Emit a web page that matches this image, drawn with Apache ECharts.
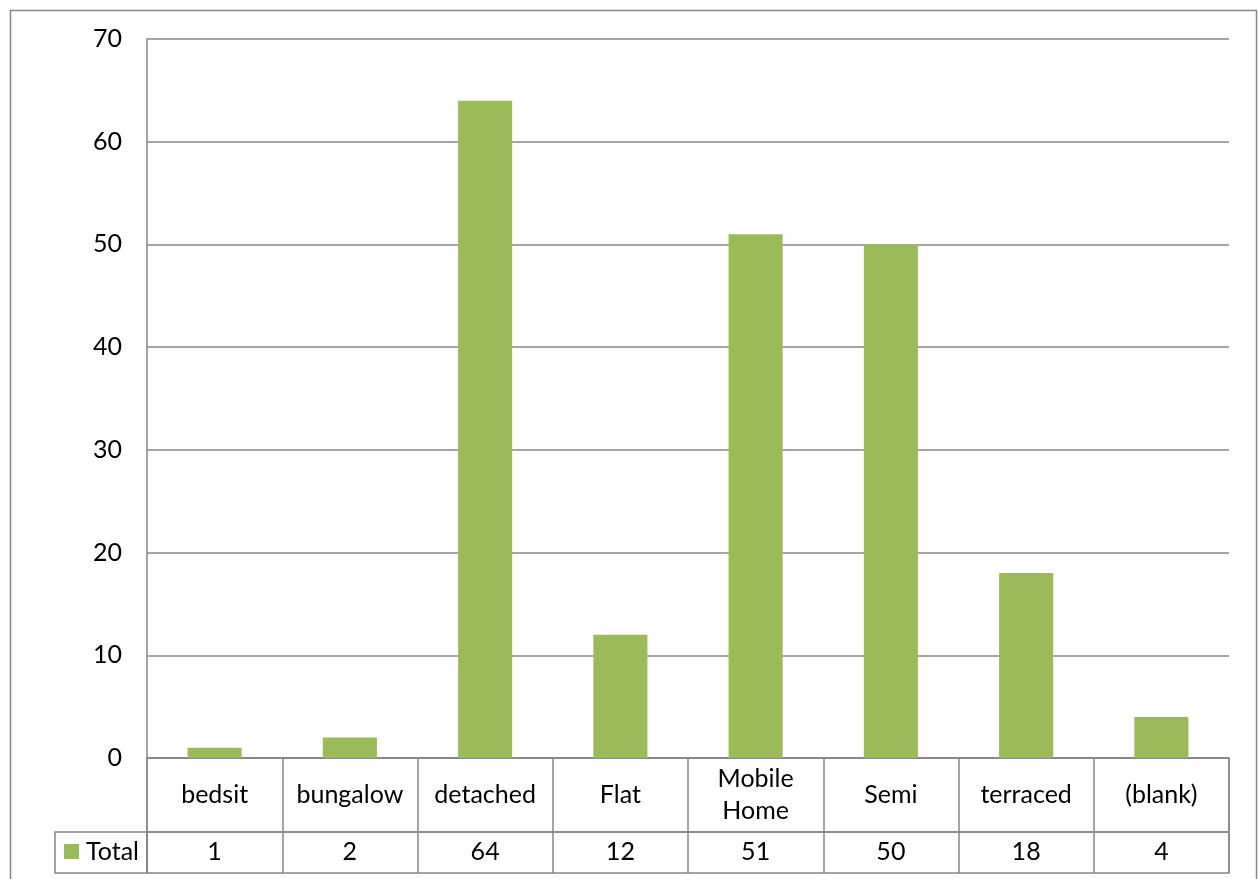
<!DOCTYPE html>
<html>
<head>
<meta charset="utf-8">
<script src="https://cdn.jsdelivr.net/npm/echarts@6/dist/echarts.min.js"></script>
<style>
  html, body { margin: 0; padding: 0; background: #ffffff; }
  #chart { width: 1258px; height: 879px; }
</style>
</head>
<body>
<div id="chart"></div>
<script>
// Property types and their counts
const categories = ['bedsit', 'bungalow', 'detached', 'Flat', 'Mobile\nHome', 'Semi', 'terraced', '(blank)'];
const totals = [1, 2, 64, 12, 51, 50, 18, 4];
const seriesName = 'Total';
const yTicks = { min: 0, max: 70, interval: 10 };

const FONT = 'Lato, "Open Sans", sans-serif';
const FONT_SIZE = 25;
const LINE = '#878787';
const BAR = '#9BBB59';

const chart = echarts.init(document.getElementById('chart'), null, { renderer: 'canvas' });

const hiddenValueAxis = (idx) => ({ type: 'value', gridIndex: idx, show: false });

chart.setOption({
  animation: false,
  backgroundColor: '#ffffff',
  textStyle: { fontFamily: FONT },
  graphic: [{
    type: 'rect',
    shape: { x: 10.5, y: 10.5, width: 1246, height: 900 },
    style: { fill: 'none', stroke: LINE, lineWidth: 1.5 },
    silent: true
  }],
  legend: {
    data: [seriesName],
    left: 64, top: 839,
    padding: 0,
    icon: 'rect',
    itemWidth: 15, itemHeight: 15, itemGap: 6,
    textStyle: { fontFamily: FONT, fontSize: FONT_SIZE, color: '#000', padding: [0, 0, 0, 2] }
  },
  grid: [
    // plot area
    { left: 147, right: 29, top: 39, bottom: 121 },
    // data table: category names row
    { left: 147, right: 29, top: 758, height: 74, show: true, borderColor: LINE, borderWidth: 1.5, backgroundColor: 'transparent' },
    // data table: values row
    { left: 147, right: 29, top: 832, height: 41, show: true, borderColor: LINE, borderWidth: 1.5, backgroundColor: 'transparent' },
    // data table: legend key cell
    { left: 55, width: 92, top: 832, height: 41, show: true, borderColor: LINE, borderWidth: 1.5, backgroundColor: 'transparent' }
  ],
  xAxis: [
    {
      type: 'category', gridIndex: 0, data: categories,
      axisLine: { show: true, lineStyle: { color: LINE, width: 1.5 } },
      axisTick: { show: false },
      axisLabel: { interval: 0, margin: 37, verticalAlign: 'middle', fontFamily: FONT, fontSize: FONT_SIZE, color: '#000', lineHeight: 32 },
      splitLine: { show: false }
    },
    {
      type: 'category', gridIndex: 1, data: categories,
      axisLine: { show: false }, axisTick: { show: false }, axisLabel: { show: false },
      splitLine: { show: true, interval: 0, lineStyle: { color: LINE, width: 1.5 } }
    },
    {
      type: 'category', gridIndex: 2, data: totals.map(String), position: 'top',
      axisLine: { show: false }, axisTick: { show: false },
      axisLabel: { interval: 0, inside: true, margin: 20, verticalAlign: 'middle', fontFamily: FONT, fontSize: FONT_SIZE, color: '#000' },
      splitLine: { show: true, interval: 0, lineStyle: { color: LINE, width: 1.5 } }
    },
    { type: 'category', gridIndex: 3, data: [''], show: false }
  ],
  yAxis: [
    {
      type: 'value', gridIndex: 0, min: yTicks.min, max: yTicks.max, interval: yTicks.interval,
      axisLine: { show: true, lineStyle: { color: LINE, width: 1.5 } },
      axisTick: { show: false },
      axisLabel: { margin: 25, fontFamily: FONT, fontSize: FONT_SIZE, color: '#000' },
      splitLine: { show: true, lineStyle: { color: LINE, width: 1.5 } }
    },
    hiddenValueAxis(1),
    hiddenValueAxis(2),
    hiddenValueAxis(3)
  ],
  series: [{
    name: seriesName,
    type: 'bar',
    xAxisIndex: 0, yAxisIndex: 0,
    data: totals,
    barWidth: '40%',
    itemStyle: { color: BAR }
  }]
});
</script>
</body>
</html>
